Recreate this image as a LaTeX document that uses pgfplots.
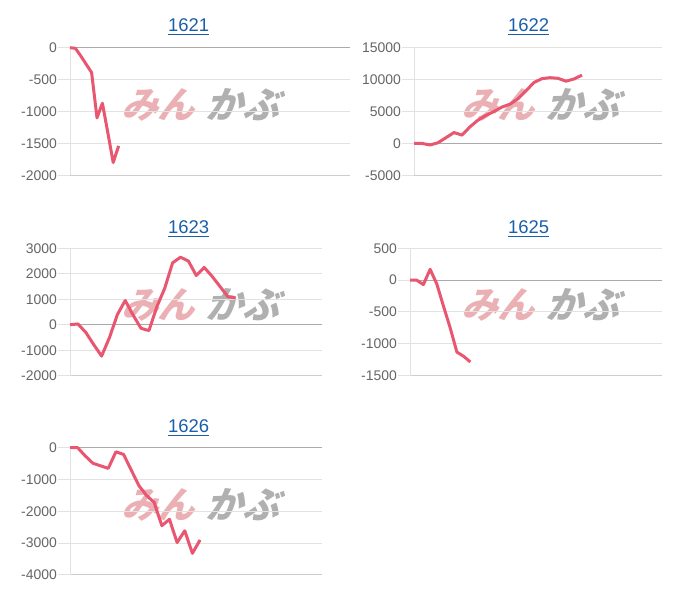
\documentclass[border=0pt]{standalone}
\usepackage{pgfplots}
\pgfplotsset{compat=1.18}
\usepackage{fontspec}
\setmainfont{Liberation Sans}
\newfontfamily\cjk{Noto Sans CJK JP}
\definecolor{linec}{RGB}{232,86,112}
\definecolor{gridc}{RGB}{226,226,226}
\definecolor{zeroc}{RGB}{170,170,170}
\definecolor{basec}{RGB}{205,205,205}
\definecolor{labc}{RGB}{102,102,102}
\definecolor{titc}{RGB}{26,95,170}
\definecolor{wmpink}{RGB}{234,176,180}
\definecolor{wmgray}{RGB}{176,176,176}
\pgfplotsset{
  panel/.style={
    scale only axis, anchor=south west,
    xmin=0,
    axis x line*=bottom, axis y line*=left,
    x axis line style={basec, line width=1bp},
    y axis line style={gridc, line width=1bp},
    xtick=\empty,
    scaled y ticks=false,
    ymajorgrids, major grid style={gridc, line width=1bp},
    major tick length=12bp, tick align=outside,
    ytick style={gridc, line width=1bp},
    yticklabel style={font=\fontsize{14}{16}\selectfont, text=labc, inner sep=1bp},
    clip=false,
  },
  ser/.style={linec, line width=3bp, line join=round, mark=none},
}
\newcommand\wm[2]{%
  \node[font=\cjk\bfseries\fontsize{37}{37}\selectfont, text=wmpink, xslant=0.3, inner sep=0] at (#1-43,#2) {みん};
  \node[font=\cjk\bfseries\fontsize{37}{37}\selectfont, text=wmgray, xslant=0.3, inner sep=0] at (#1+42,#2) {かぶ};
}
\newcommand\ttl[3]{%
  \node[font=\fontsize{18.5}{20}\selectfont, text=titc, inner sep=0, anchor=base] (t) at (#1,#2) {#3};
  \draw[titc, line width=1.2bp] ([yshift=-2.2bp]t.base west) -- ([yshift=-2.2bp]t.base east);
}
\begin{document}
\begin{tikzpicture}[x=1bp,y=1bp]
\path[fill=white] (0,0) rectangle (700,600);
\wm{205}{495}
\wm{545}{495}
\wm{205}{295}
\wm{545}{295}
\wm{205}{95}

% 1621
\begin{axis}[panel, at={(70bp,424.7bp)}, width=280bp, height=127.6bp, xmax=280,
  ymin=-2000, ymax=0, ytick={-2000,-1500,-1000,-500,0},
  yticklabels={-2000,-1500,-1000,-500,0}]
\addplot[zeroc, line width=1bp, forget plot] coordinates {(0,0) (280,0)};
\addplot[ser] coordinates {(0,0) (5.4,-10) (10.8,-130) (16.2,-260) (21.6,-390) (27,-1100) (32.4,-870) (37.8,-1330) (43.2,-1800) (48.6,-1540)};
\end{axis}

% 1622
\begin{axis}[panel, at={(414bp,424.7bp)}, width=248bp, height=127.6bp, xmax=248,
  ymin=-5000, ymax=15000, ytick={-5000,0,5000,10000,15000},
  yticklabels={-5000,0,5000,10000,15000}]
\addplot[zeroc, line width=1bp, forget plot] coordinates {(0,0) (248,0)};
\addplot[ser] coordinates {(0,0) (8,0) (16,-250) (24,100) (32,900) (40,1700) (48,1300) (56,2600) (64,3650) (72,4400) (80,5000) (88,5700) (96,6150) (104,7000) (112,8250) (120,9550) (128,10150) (136,10300) (144,10200) (152,9750) (160,10100) (168,10700)};
\end{axis}

% 1623
\begin{axis}[panel, at={(70bp,224.3bp)}, width=252bp, height=127.4bp, xmax=252,
  ymin=-2000, ymax=3000, ytick={-2000,-1000,0,1000,2000,3000},
  yticklabels={-2000,-1000,0,1000,2000,3000}]
\addplot[zeroc, line width=1bp, forget plot] coordinates {(0,0) (252,0)};
\addplot[ser] coordinates {(0,0) (7.9,30) (15.8,-300) (23.7,-780) (31.6,-1230) (39.5,-500) (47.4,400) (55.2,950) (63.1,380) (71,-140) (78.9,-230) (86.8,700) (94.7,1430) (102.6,2430) (110.5,2650) (118.4,2500) (126.3,1930) (134.2,2250) (142.1,1900) (150,1500) (157.9,1100) (165.7,1050)};
\end{axis}

% 1625
\begin{axis}[panel, at={(410bp,224.3bp)}, width=252bp, height=127.4bp, xmax=252,
  ymin=-1500, ymax=500, ytick={-1500,-1000,-500,0,500},
  yticklabels={-1500,-1000,-500,0,500}]
\addplot[zeroc, line width=1bp, forget plot] coordinates {(0,0) (252,0)};
\addplot[ser] coordinates {(0,0) (6.7,0) (13.4,-70) (20.1,170) (26.8,-60) (33.5,-410) (40.2,-750) (46.9,-1130) (53.6,-1195) (60.3,-1285)};
\end{axis}

% 1626
\begin{axis}[panel, at={(70bp,25bp)}, width=252bp, height=127.3bp, xmax=252,
  ymin=-4000, ymax=0, ytick={-4000,-3000,-2000,-1000,0},
  yticklabels={-4000,-3000,-2000,-1000,0}]
\addplot[zeroc, line width=1bp, forget plot] coordinates {(0,0) (252,0)};
\addplot[ser] coordinates {(0,0) (7.65,0) (15.3,-260) (22.95,-490) (30.6,-570) (38.25,-650) (45.9,-130) (53.55,-210) (61.2,-700) (68.85,-1190) (76.5,-1500) (84.15,-1720) (91.8,-2450) (99.45,-2250) (107.1,-2980) (114.75,-2610) (122.4,-3320) (130.05,-2900)};
\end{axis}

\ttl{188.7}{568}{1621}
\ttl{528.7}{568}{1622}
\ttl{188.7}{366}{1623}
\ttl{528.7}{366}{1625}
\ttl{188.7}{167}{1626}
\end{tikzpicture}
\end{document}
